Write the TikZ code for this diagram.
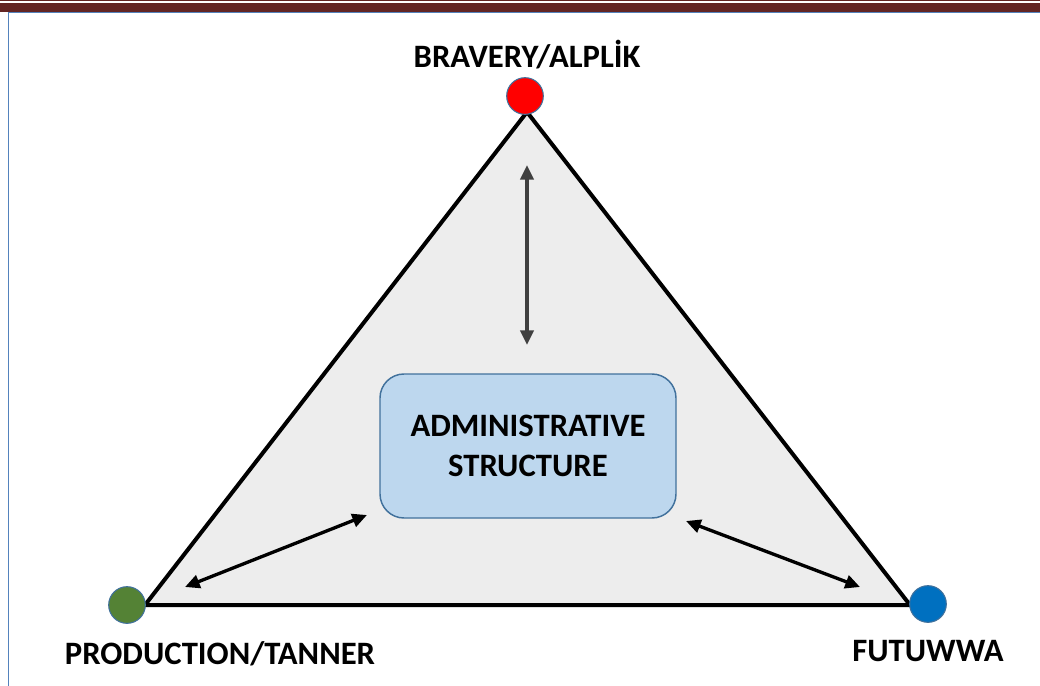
\documentclass[tikz,border=0pt]{standalone}
\usepackage{fontspec}
\setmainfont{Carlito}
\usetikzlibrary{arrows.meta,positioning}
\definecolor{borderred}{RGB}{99,37,35}
\definecolor{borderblue}{RGB}{84,130,188}
\definecolor{trifill}{RGB}{237,237,237}
\definecolor{boxfill}{RGB}{189,215,238}
\definecolor{boxline}{RGB}{65,113,156}
\definecolor{dotred}{RGB}{255,0,0}
\definecolor{dotgreen}{RGB}{84,130,53}
\definecolor{dotblue}{RGB}{0,112,192}
\definecolor{arrowgray}{RGB}{64,64,64}
\tikzset{
    % Node styles
    corner dot/.style={
        circle,
        draw=boxline,
        line width=0.8pt,
        minimum size=27.5pt,
        inner sep=0pt
    },
    corner label/.style={
        font=\fontsize{24.5}{28}\selectfont\bfseries,
        inner sep=0pt,
        anchor=base
    },
    center box/.style={
        draw=boxline,
        fill=boxfill,
        line width=1.1pt,
        rectangle,
        rounded corners=18pt,
        minimum width=222pt,
        minimum height=108pt,
        align=center,
        font=\fontsize{24.5}{30}\selectfont\bfseries
    },
    % Arrow styles
    link arrow/.style={
        {Triangle[length=11pt,width=10pt]}-{Triangle[length=11pt,width=10pt]},
        line width=2.5pt
    }
}

\begin{document}
\begin{tikzpicture}[x=0.75pt, y=-0.75pt]
    \useasboundingbox (0,0) rectangle (1040,686);

    % Page border
    \fill[borderred] (0,0) rectangle (1040,1.3);
    \fill[borderred] (0,3) rectangle (1040,11.7);
    \draw[borderblue, line width=1.3pt] (1040,12.6) -- (8.6,12.6) -- (8.6,686);

    % Triangle
    \coordinate (top) at (527,112);
    \coordinate (left) at (145,605);
    \coordinate (right) at (910,605);
    \draw[line width=3pt, fill=trifill] (top) -- (left) -- (right) -- cycle;

    % Corner dots and labels
    \node[corner dot, fill=dotred] (bravery) at (525,96) {};
    \node[corner dot, fill=dotgreen] (production) at (127,605) {};
    \node[corner dot, fill=dotblue] (futuwwa) at (928,604) {};
    \node[corner label] (bravery label) at (527,67) {BRAVERY/ALPLİK};
    \node[corner label] (production label) at (220,664) {PRODUCTION/TANNER};
    \node[corner label] (futuwwa label) at (928,661) {FUTUWWA};

    % Centre box
    \node[center box] (admin) at (528,446) {ADMINISTRATIVE\\STRUCTURE};

    % Arrows
    \coordinate (up end) at (527,165);
    \coordinate (up start) at (527,345);
    \coordinate (left end) at (185,587);
    \coordinate (left start) at (367,515);
    \coordinate (right start) at (686,521);
    \coordinate (right end) at (860,587);
    \draw[link arrow, arrowgray] (up start) -- (up end);
    \draw[link arrow] (left start) -- (left end);
    \draw[link arrow] (right start) -- (right end);
\end{tikzpicture}
\end{document}
